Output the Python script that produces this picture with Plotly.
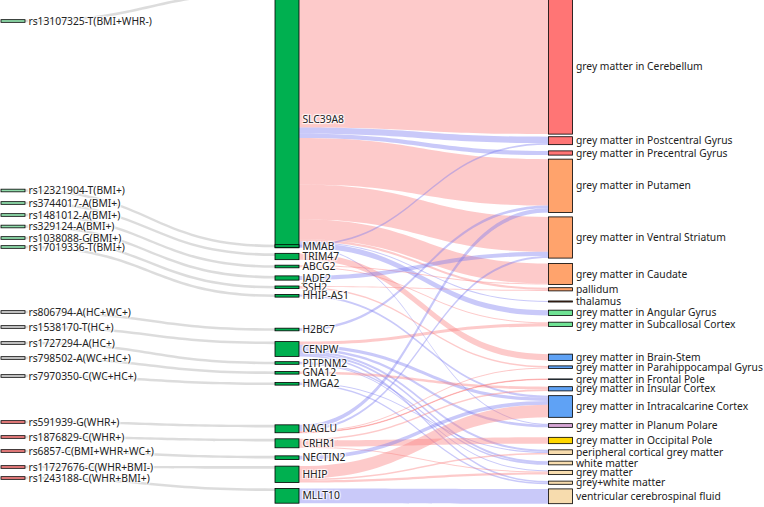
import plotly.graph_objects as go

W, H = 764, 507

snps = ["rs13107325-T(BMI+WHR-)", "rs12321904-T(BMI+)", "rs3744017-A(BMI+)", "rs1481012-A(BMI+)",
        "rs329124-A(BMI+)", "rs1038088-G(BMI+)", "rs17019336-T(BMI+)",
        "rs806794-A(HC+WC+)", "rs1538170-T(HC+)", "rs1727294-A(HC+)", "rs798502-A(WC+HC+)", "rs7970350-C(WC+HC+)",
        "rs591939-G(WHR+)", "rs1876829-C(WHR+)", "rs6857-C(BMI+WHR+WC+)", "rs11727676-C(WHR+BMI-)", "rs1243188-C(WHR+BMI+)"]
snp_group = ["bmi"] * 7 + ["hc"] * 5 + ["whr"] * 5
snp_y = [21, 190.5, 203, 215, 226.5, 238, 247, 312, 327, 343, 358, 376, 422, 437, 451, 467, 478]

genes = ["SLC39A8", "MMAB", "TRIM47", "ABCG2", "JADE2", "SSH2", "HHIP-AS1", "H2BC7", "CENPW", "PITPNM2",
         "GNA12", "HMGA2", "NAGLU", "CRHR1", "NECTIN2", "HHIP", "MLLT10"]
gene_y = [119.5, 246, 256.5, 266.5, 278, 287.3, 295.8, 329.5, 349, 363, 372.8, 383.8, 428.8, 443.3, 457.7, 474.3, 495.8]

regions = ["grey matter in Cerebellum", "grey matter in Postcentral Gyrus", "grey matter in Precentral Gyrus",
           "grey matter in Putamen", "grey matter in Ventral Striatum", "grey matter in Caudate", "pallidum", "thalamus",
           "grey matter in Angular Gyrus", "grey matter in Subcallosal Cortex", "grey matter in Brain-Stem",
           "grey matter in Parahippocampal Gyrus", "grey matter in Frontal Pole", "grey matter in Insular Cortex",
           "grey matter in Intracalcarine Cortex", "grey matter in Planum Polare", "grey matter in Occipital Pole",
           "peripheral cortical grey matter", "white matter", "grey matter", "grey+white matter",
           "ventricular cerebrospinal fluid"]
region_group = ["red"] * 3 + ["orange"] * 4 + ["brown"] + ["green"] * 2 + ["blue"] * 5 + ["plum", "gold"] + ["wheat"] * 5
region_y = [66, 140.7, 153, 185.8, 237.5, 274, 289.3, 301.5, 312.8, 324.3, 357.3, 367.2, 379.2, 388.8, 406.5,
            425.5, 440.5, 452.2, 463, 472.5, 482.7, 496.3]

# SNP -> gene (one each, same order)
snp_gene_value = 2.5

# gene -> region links: (gene, region, value, direction)
gene_links = [
    ("SLC39A8", "grey matter in Cerebellum", 129, "+"),
    ("SLC39A8", "grey matter in Postcentral Gyrus", 6, "-"),
    ("SLC39A8", "grey matter in Precentral Gyrus", 4, "-"),
    ("SLC39A8", "grey matter in Putamen", 44, "+"),
    ("SLC39A8", "grey matter in Ventral Striatum", 33, "+"),
    ("SLC39A8", "grey matter in Caudate", 19, "+"),
    ("SLC39A8", "pallidum", 2, "+"),
    ("SLC39A8", "thalamus", 1, "-"),
    ("SLC39A8", "grey matter in Angular Gyrus", 5, "-"),
    ("MMAB", "grey matter in Postcentral Gyrus", 1.5, "-"),
    ("MMAB", "grey matter in Planum Polare", 1, "-"),
    ("TRIM47", "grey matter in Brain-Stem", 6, "+"),
    ("ABCG2", "grey matter in Caudate", 1, "+"),
    ("ABCG2", "grey matter in Subcallosal Cortex", 1, "+"),
    ("JADE2", "grey matter in Ventral Striatum", 4, "-"),
    ("SSH2", "pallidum", 1, "+"),
    ("SSH2", "grey matter in Parahippocampal Gyrus", 1.5, "+"),
    ("HHIP-AS1", "grey matter in Intracalcarine Cortex", 2, "-"),
    ("H2BC7", "grey matter in Putamen", 2.5, "-"),
    ("CENPW", "grey matter in Subcallosal Cortex", 3, "+"),
    ("CENPW", "grey matter in Intracalcarine Cortex", 3, "-"),
    ("CENPW", "grey matter in Planum Polare", 2.5, "-"),
    ("CENPW", "peripheral cortical grey matter", 2, "-"),
    ("CENPW", "white matter", 2, "-"),
    ("CENPW", "grey+white matter", 1.5, "-"),
    ("PITPNM2", "white matter", 1.5, "-"),
    ("PITPNM2", "grey matter", 1, "-"),
    ("GNA12", "grey matter in Insular Cortex", 2.5, "+"),
    ("HMGA2", "grey+white matter", 1.5, "-"),
    ("HMGA2", "peripheral cortical grey matter", 1, "-"),
    ("NAGLU", "grey matter in Putamen", 4, "-"),
    ("NAGLU", "grey matter in Ventral Striatum", 2, "-"),
    ("NAGLU", "grey matter in Parahippocampal Gyrus", 1, "+"),
    ("NAGLU", "grey matter in Frontal Pole", 0.5, "+"),
    ("CRHR1", "grey matter in Insular Cortex", 1.5, "+"),
    ("CRHR1", "grey matter in Occipital Pole", 6, "+"),
    ("CRHR1", "grey matter", 1, "+"),
    ("NECTIN2", "grey matter in Intracalcarine Cortex", 3.5, "-"),
    ("HHIP", "grey matter in Intracalcarine Cortex", 12, "+"),
    ("HHIP", "peripheral cortical grey matter", 1.5, "+"),
    ("HHIP", "grey matter", 2, "+"),
    ("MLLT10", "ventricular cerebrospinal fluid", 14, "-"),
]

snp_colors = {"bmi": "#8fdcaa", "hc": "#d0d0d0", "whr": "#f08080"}
snp_lines = {"bmi": "#3cb86a", "hc": "#8c8c8c", "whr": "#d9505a"}
region_colors = {"red": "#ff7575", "orange": "#ffa36c", "brown": "#c07048", "green": "#6fe394",
                 "blue": "#5fa2f5", "plum": "#d6a6d6", "gold": "#ffd700", "wheat": "#f7dcae"}
region_lines = {"red": "#b86060", "orange": "#c08060", "brown": "#b06040", "green": "#50b070",
                "blue": "#4a78b8", "plum": "#a080a0", "gold": "#b8a040", "wheat": "#b8a080"}
gene_color = "#00b050"
link_colors = {"+": "rgba(250,128,128,0.42)", "-": "rgba(120,120,240,0.40)"}
snp_link_color = "rgba(185,185,185,0.5)"

labels = snps + genes + regions + [""]
idx = {n: i for i, n in enumerate(labels)}
# last node: invisible spacer placed outside the visible area (keeps region labels on the right)
node_x = [13 / W] * len(snps) + [287 / W] * len(genes) + [560.5 / W] * len(regions) + [1.08]
node_y = [y / H for y in snp_y + gene_y + region_y] + [0.5]
node_colors = ([snp_colors[g] for g in snp_group] + [gene_color] * len(genes) +
               [region_colors[g] for g in region_group] + ["white"])
line_colors = ([snp_lines[g] for g in snp_group] + [gene_color] * len(genes) +
               [region_lines[g] for g in region_group] + ["white"])

src, tgt, val, col = [], [], [], []
for s, g in zip(snps, genes):
    src.append(idx[s]); tgt.append(idx[g]); val.append(snp_gene_value); col.append(snp_link_color)
for g, r, v, d in gene_links:
    src.append(idx[g]); tgt.append(idx[r]); val.append(v); col.append(link_colors[d])
src.append(idx["ventricular cerebrospinal fluid"]); tgt.append(len(labels) - 1); val.append(0.001)
col.append("rgba(0,0,0,0)")

right_sum = sum(v for g, r, v, d in gene_links)
pad = (H - 4 - right_sum) / (len(regions) - 1)

fig = go.Figure(go.Sankey(
    arrangement="fixed",
    domain=dict(x=[0, 1], y=[0, 1]),
    node=dict(label=labels, x=node_x, y=node_y, color=node_colors, pad=pad, thickness=24,
              line=dict(color=line_colors, width=0.8), hoverinfo="skip"),
    link=dict(source=src, target=tgt, value=val, color=col, hoverinfo="skip"),
    textfont=dict(family="Noto Sans", size=10.3, color="#222"),
))
fig.update_layout(width=W, height=H, margin=dict(l=0, r=0, t=0, b=0), hovermode=False,
                  paper_bgcolor="white", plot_bgcolor="white")
fig.write_html("out.html", config={"staticPlot": True, "displayModeBar": False},
               post_script="document.body.style.margin='0';")
